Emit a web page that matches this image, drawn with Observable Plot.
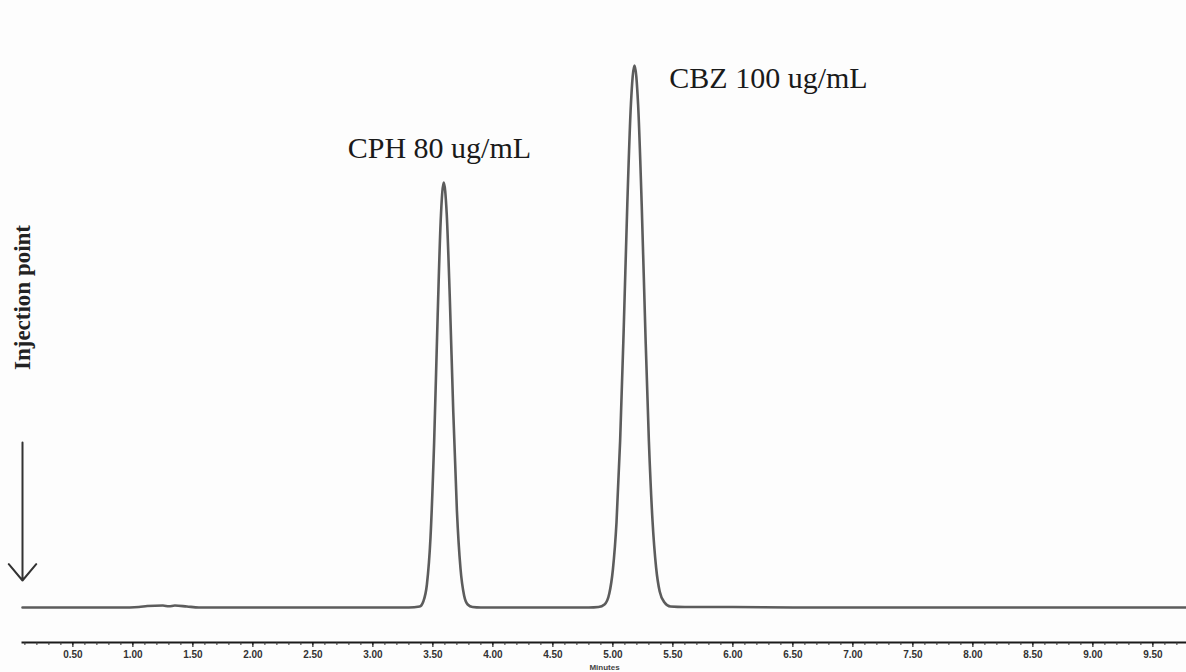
<!DOCTYPE html>
<html>
<head>
<meta charset="utf-8">
<script src="https://cdn.jsdelivr.net/npm/d3@7"></script>
<script src="https://cdn.jsdelivr.net/npm/@observablehq/plot@0.6"></script>
<style>
  html, body { margin: 0; padding: 0; background: #fdfdfd; }
  #chart svg { display: block; overflow: visible; }
</style>
</head>
<body>
<div id="chart"></div>
<script>
// Retention time (minutes) of the sampled chromatogram trace
const time = [
  0.08, 0.50, 0.90, 1.05, 1.12, 1.25, 1.30, 1.35, 1.45, 1.55, 2.00, 2.50, 3.00, 3.30,
  3.39, 3.42, 3.45, 3.48, 3.51, 3.54, 3.565, 3.59, 3.615, 3.64, 3.67, 3.70, 3.73, 3.76, 3.79, 3.83,
  3.90, 4.20, 4.50, 4.80, 4.88,
  4.93, 4.97, 5.00, 5.03, 5.06, 5.09, 5.12, 5.15, 5.18, 5.21, 5.24, 5.27, 5.30, 5.33, 5.36, 5.39, 5.43, 5.48,
  5.60, 6.00, 6.50, 7.00, 7.50, 8.00, 8.50, 9.00, 9.50, 9.78
];
// Detector response (arbitrary units)
const signal = [
  0, 0, 0, 0.5, 1.5, 2, 1.2, 2, 1, 0, 0, 0, 0, 0,
  1, 6, 23, 70, 164, 293, 387, 425, 394, 313, 195, 97, 39, 12, 3, 0.5,
  0, 0, 0, 0, 0.5,
  3, 14, 38, 85, 166, 278, 403, 503, 542, 503, 403, 278, 166, 87, 40, 16, 5, 1,
  0.5, 0.5, 0, 0, 0, 0, 0, 0, 0, 0
];
const trace = time.map((t, i) => ({time: t, signal: signal[i]}));

// Axis ticks
const majorTicks = [0.5, 1.0, 1.5, 2.0, 2.5, 3.0, 3.5, 4.0, 4.5, 5.0, 5.5, 6.0, 6.5, 7.0, 7.5, 8.0, 8.5, 9.0, 9.5];
const tickLabels = ["0.50", "1.00", "1.50", "2.00", "2.50", "3.00", "3.50", "4.00", "4.50", "5.00",
                    "5.50", "6.00", "6.50", "7.00", "7.50", "8.00", "8.50", "9.00", "9.50"];
const minorTicks = d3.range(1, 98).map(i => i / 10);

// Peak annotations (time, response, text)
const peakLabelTime = [2.79, 5.47];
const peakLabelSignal = [450, 520];
const peakLabelText = ["CPH 80 ug/mL", "CBZ 100 ug/mL"];
const peakLabels = peakLabelText.map((s, i) => ({time: peakLabelTime[i], signal: peakLabelSignal[i], text: s}));

// Injection marker
const injection = [{time: 0.08, textSignal: 310, from: 165, to: 27, text: "Injection point"}];

const chart = Plot.plot({
  width: 1186,
  height: 672,
  marginLeft: 22,
  marginRight: 0,
  marginTop: 65,
  marginBottom: 30,
  style: {background: "transparent", fontFamily: "'Liberation Sans', Arial, sans-serif"},
  x: {domain: [0.08, 9.78]},
  y: {domain: [-35, 542], axis: null},
  marks: [
    Plot.frame({anchor: "bottom", stroke: "#1a1a1a", strokeWidth: 2}),
    Plot.axisX({ticks: minorTicks, tickSize: 3, tickFormat: () => "", stroke: "#333", label: null}),
    Plot.axisX({
      ticks: majorTicks,
      tickSize: 5,
      tickPadding: 3,
      tickFormat: (d) => tickLabels[majorTicks.indexOf(d)],
      fontSize: 10,
      fontWeight: "bold",
      fill: "#333",
      label: null
    }),
    Plot.text(["Minutes"], {frameAnchor: "bottom", dy: 27, fontSize: 8, fontWeight: "bold", fill: "#444"}),
    Plot.line(trace, {x: "time", y: "signal", stroke: "#5c5c5c", strokeWidth: 2.6, curve: "monotone-x"}),
    Plot.text(peakLabels, {
      x: "time", y: "signal", text: "text",
      textAnchor: "start", lineAnchor: "bottom",
      fontSize: 30, fontFamily: "'Liberation Serif', 'Times New Roman', serif", fill: "#1a1a1a"
    }),
    Plot.text(injection, {
      x: "time", y: "textSignal", text: "text", rotate: -90,
      fontSize: 23, fontWeight: "bold", fontFamily: "'Liberation Serif', 'Times New Roman', serif", fill: "#222"
    }),
    Plot.arrow(injection, {
      x1: "time", x2: "time", y1: "from", y2: "to",
      stroke: "#333", strokeWidth: 2, headLength: 16, headAngle: 80
    })
  ]
});
document.getElementById("chart").append(chart);
</script>
</body>
</html>
